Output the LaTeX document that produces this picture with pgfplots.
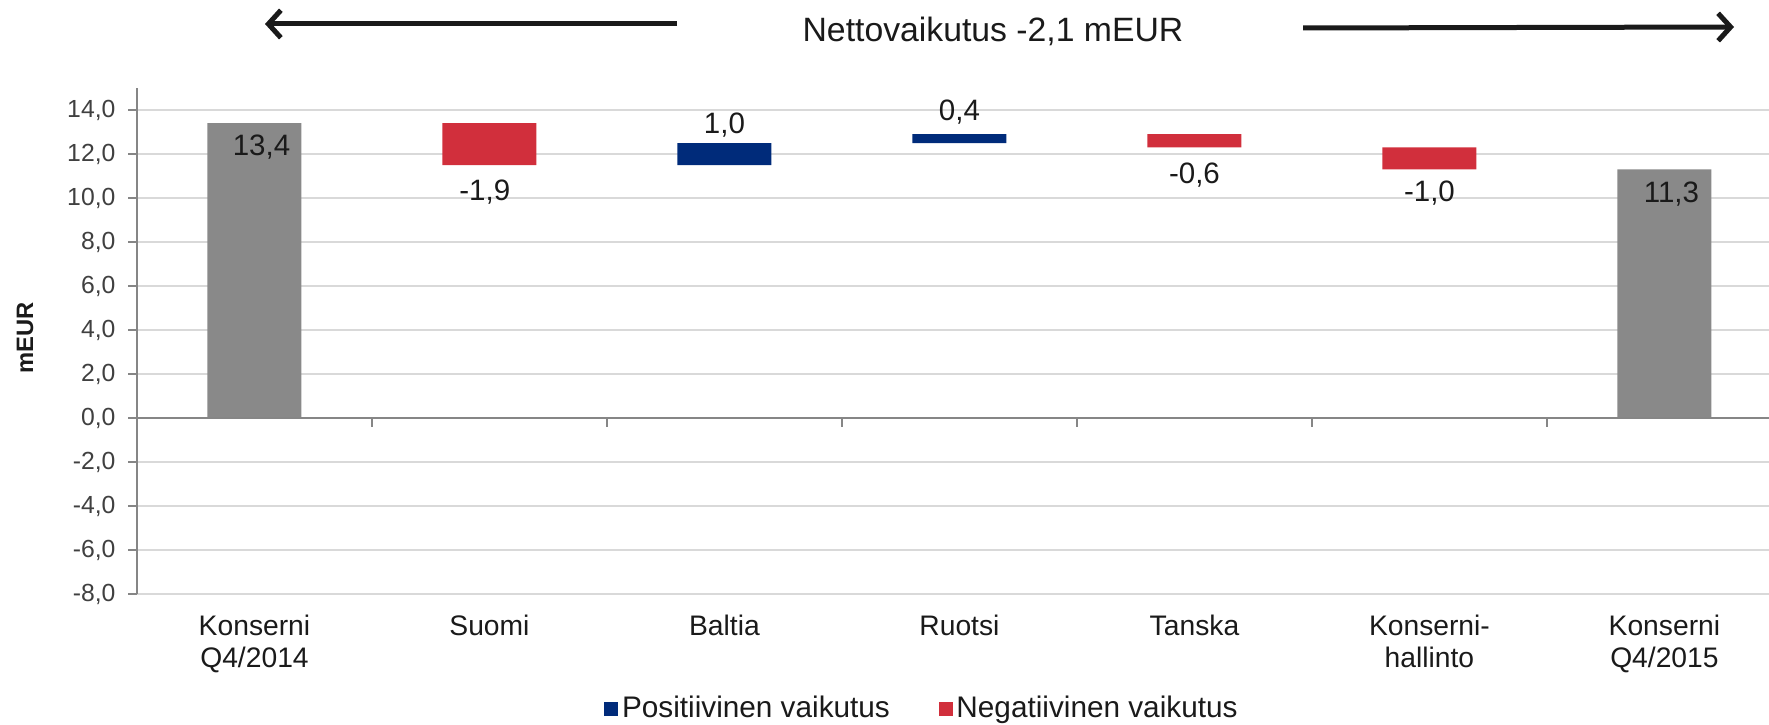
\documentclass[border=0pt]{standalone}
\usepackage{fontspec}
\setmainfont{Liberation Sans}
\usepackage{pgfplots}
\pgfplotsset{compat=1.18}
\usetikzlibrary{arrows.meta}
\definecolor{barGray}{HTML}{898989}
\definecolor{barRed}{HTML}{D12F3C}
\definecolor{barBlue}{HTML}{002B7A}
\definecolor{gridGray}{HTML}{D9D9D9}
\definecolor{axGray}{HTML}{868686}
\definecolor{tickText}{HTML}{404040}
\definecolor{txt}{HTML}{1A1A1A}
\begin{document}
\begin{tikzpicture}
\path[use as bounding box] (0,0) rectangle (707.6pt,289.6pt);
\begin{axis}[
  at={(54.8pt,52pt)}, anchor=south west,
  scale only axis, width=652.8pt, height=202.4pt,
  ybar stacked, bar width=0.4,
  xmin=-0.5, xmax=6.445, ymin=-8, ymax=15,
  ytick={-8,-6,...,14},
  xtick={0,1,2,3,4,5,6},
  xticklabels={{Konserni\\Q4/2014},Suomi,Baltia,Ruotsi,Tanska,{Konserni-\\hallinto},{Konserni\\Q4/2015}},
  xticklabel style={align=center, font=\fontsize{11.3}{12.8}\selectfont, text=txt, yshift=-1.4pt},
  x tick style={draw=none},
  axis x line*=bottom, x axis line style={draw=none},
  axis y line*=left, y axis line style={-, color=axGray, line width=0.8pt},
  y tick style={color=axGray, line width=0.8pt},
  tick align=outside, major tick length=3.6pt,
  yticklabel style={font=\fontsize{9.9}{11}\selectfont, text=tickText, xshift=-1.5pt,
    /pgf/number format/fixed, /pgf/number format/fixed zerofill,
    /pgf/number format/precision=1, /pgf/number format/use comma,
    /pgf/number format/assume math mode=true},
  ymajorgrids, grid style={color=gridGray, line width=0.8pt},
  ylabel={\bfseries mEUR},
  ylabel style={at={(rel axis cs:-0.0686,0.506)}, anchor=center, font=\fontsize{9.5}{11}\selectfont, text=txt},
  legend style={at={(0.4815,-0.227)}, anchor=center, draw=none, fill=none,
    legend columns=2, font=\fontsize{11.9}{14}\selectfont, text=txt,
    nodes={inner sep=1.5pt},
    /tikz/every even column/.append style={column sep=18pt}},
  legend image code/.code={\fill[#1] (0pt,-2.8pt) rectangle (5.6pt,2.8pt);},
]
% invisible base
\addplot[fill=none, draw=none, forget plot] coordinates {(0,0) (1,11.5) (2,11.5) (3,12.5) (4,12.3) (5,11.3) (6,0)};
% totals
\addplot[fill=barGray, draw=none, forget plot] coordinates {(0,13.4) (1,0) (2,0) (3,0) (4,0) (5,0) (6,11.3)};
% positive
\addplot[fill=barBlue, draw=none] coordinates {(0,0) (1,0) (2,1.0) (3,0.4) (4,0) (5,0) (6,0)};
\addlegendentry{Positiivinen vaikutus}
% negative
\addplot[fill=barRed, draw=none] coordinates {(0,0) (1,1.9) (2,0) (3,0) (4,0.6) (5,1.0) (6,0)};
\addlegendentry{Negatiivinen vaikutus}
% reference points for annotations drawn on top
\coordinate (z0) at (axis cs:-0.5,0);
\coordinate (z1) at (axis cs:6.445,0);
\coordinate (t1) at (axis cs:0.5,0);
\coordinate (t2) at (axis cs:1.5,0);
\coordinate (t3) at (axis cs:2.5,0);
\coordinate (t4) at (axis cs:3.5,0);
\coordinate (t5) at (axis cs:4.5,0);
\coordinate (t6) at (axis cs:5.5,0);
\coordinate (l0) at (axis cs:0.03,12.32);
\coordinate (l1) at (axis cs:0.98,10.27);
\coordinate (l2) at (axis cs:2,13.32);
\coordinate (l3) at (axis cs:3,13.9);
\coordinate (l4) at (axis cs:4,11.05);
\coordinate (l5) at (axis cs:5,10.23);
\coordinate (l6) at (axis cs:6.03,10.18);
\end{axis}
% zero axis line and category ticks
\draw[color=axGray, line width=0.8pt] (z0) -- (z1);
\foreach \t in {t1,t2,t3,t4,t5,t6} \draw[color=axGray, line width=0.8pt] (\t) -- ++(0pt,-3.6pt);
% data labels
\begin{scope}[every node/.style={font=\fontsize{11.8}{13}\selectfont, text=txt, anchor=center}]
\node at (l0) {13,4};
\node at (l1) {-1,9};
\node at (l2) {1,0};
\node at (l3) {0,4};
\node at (l4) {-0,6};
\node at (l5) {-1,0};
\node at (l6) {11,3};
\end{scope}
% title and arrows
\node[font=\fontsize{13.5}{15}\selectfont, text=txt] at (397.2pt,277pt) {Nettovaikutus -2,1 mEUR};
\draw[line width=2pt, color=txt, -{Straight Barb[length=5pt,width=11pt]}] (270.8pt,280pt) -- (106pt,280pt);
\draw[line width=2pt, color=txt, -{Straight Barb[length=5pt,width=11pt]}] (521.2pt,278.4pt) -- (693.6pt,278.8pt);
\end{tikzpicture}
\end{document}
